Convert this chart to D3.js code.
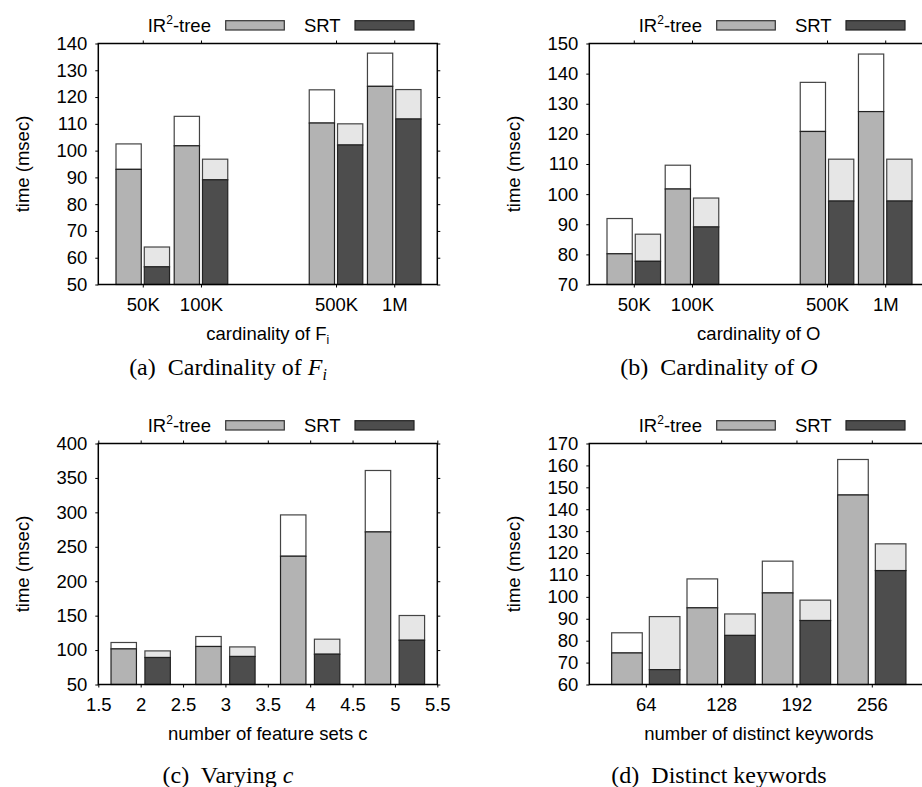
<!DOCTYPE html>
<html>
<head>
<meta charset="utf-8">
<script src="https://cdn.jsdelivr.net/npm/d3@7"></script>
<style>
body { margin: 0; background: #fff; }
svg { display: block; }
</style>
</head>
<body>
<script>
// panel (a) cardinality of Fi
var aCats = ["50K", "100K", "500K", "1M"];
var aPos = [1, 2, 4.32, 5.32];
var aIrBase = [93, 101.8, 110.3, 124];
var aIrTop = [102.5, 112.8, 122.7, 136.4];
var aSrtBase = [56.6, 89.1, 102.1, 111.8];
var aSrtTop = [64, 96.8, 110, 122.8];
var aYTicks = [50, 60, 70, 80, 90, 100, 110, 120, 130, 140];

// panel (b) cardinality of O
var bCats = ["50K", "100K", "500K", "1M"];
var bPos = [1, 2, 4.32, 5.32];
var bIrBase = [80.2, 101.7, 120.8, 127.4];
var bIrTop = [91.9, 109.6, 137.1, 146.5];
var bSrtBase = [77.7, 89.1, 97.7, 97.7];
var bSrtTop = [86.7, 98.7, 111.6, 111.6];
var bYTicks = [70, 80, 90, 100, 110, 120, 130, 140, 150];

// panel (c) varying c
var cCats = [2, 3, 4, 5];
var cIrBase = [101.7, 105.2, 236.3, 271.6];
var cIrTop = [111, 119.7, 296.3, 360.8];
var cSrtBase = [89.2, 90.7, 94, 114.3];
var cSrtTop = [98.8, 104.6, 115.8, 150.2];
var cXTicks = [1.5, 2, 2.5, 3, 3.5, 4, 4.5, 5, 5.5];
var cYTicks = [50, 100, 150, 200, 250, 300, 350, 400];

// panel (d) distinct keywords
var dCats = [64, 128, 192, 256];
var dIrBase = [74.4, 95, 101.8, 146.5];
var dIrTop = [83.6, 108.2, 116.3, 162.7];
var dSrtBase = [66.8, 82.4, 89.2, 112];
var dSrtTop = [91, 92.2, 98.5, 124.2];
var dYTicks = [60, 70, 80, 90, 100, 110, 120, 130, 140, 150, 160, 170];

var SANS = "'Liberation Sans', Arial, sans-serif";
var SERIF = "'Liberation Serif', 'Times New Roman', serif";
var FS = 18.5;

var svg = d3.select("body").append("svg")
	.attr("width", 922)
	.attr("height", 787);

function drawBar(g, x0, x1, yTop, yMid, yBot, upFill, lowFill){
	g.append("rect")
		.attr("x", x0).attr("y", yTop)
		.attr("width", x1 - x0).attr("height", yMid - yTop)
		.attr("fill", upFill).attr("stroke", "#444").attr("stroke-width", 1.2);
	g.append("rect")
		.attr("x", x0).attr("y", yMid)
		.attr("width", x1 - x0).attr("height", yBot - yMid)
		.attr("fill", lowFill).attr("stroke", "#222").attr("stroke-width", 1.2);
}

function styleAxis(sel){
	sel.select(".domain").remove();
	sel.selectAll("line").attr("stroke", "#000").attr("stroke-width", 1);
	sel.selectAll("text").attr("font-family", SANS).attr("font-size", FS).attr("fill", "#000");
}

function panel(ox, oy, o){
	var g = svg.append("g").attr("transform", "translate(" + ox + "," + oy + ")");
	var L = 98.3, T = 43.5, W = 339, H = 241;
	var x = d3.scaleLinear().domain(o.xDomain).range([L, L + W]);
	var y = d3.scaleLinear().domain(o.yDomain).range([T + H, T]);

	// bars
	for(var i = 0; i < o.pos.length; i++){
		var p = o.pos[i];
		drawBar(g, x(p - o.off - o.bw / 2), x(p - o.off + o.bw / 2),
			y(o.irTop[i]), y(o.irBase[i]), y(o.yDomain[0]), "#fff", "#b3b3b3");
		drawBar(g, x(p + o.off - o.bw / 2), x(p + o.off + o.bw / 2),
			y(o.srtTop[i]), y(o.srtBase[i]), y(o.yDomain[0]), "#e6e6e6", "#4d4d4d");
	}

	// axes, ticks outward on all four sides
	g.append("g").attr("transform", "translate(" + L + ",0)")
		.call(d3.axisLeft(y).tickValues(o.yTicks).tickSize(3).tickPadding(8))
		.call(styleAxis);
	g.append("g").attr("transform", "translate(" + (L + W) + ",0)")
		.call(d3.axisRight(y).tickValues(o.yTicks).tickSize(3).tickFormat(""))
		.call(styleAxis);
	g.append("g").attr("transform", "translate(0," + (T + H) + ")")
		.call(d3.axisBottom(x).tickValues(o.xTicks).tickSize(3).tickPadding(10)
			.tickFormat(function(d, i){ return o.xLabels[i]; }))
		.call(styleAxis);
	g.append("g").attr("transform", "translate(0," + T + ")")
		.call(d3.axisTop(x).tickValues(o.xTicks).tickSize(3).tickFormat(""))
		.call(styleAxis);

	g.append("rect")
		.attr("x", L).attr("y", T).attr("width", W).attr("height", H)
		.attr("fill", "none").attr("stroke", "#000").attr("stroke-width", 1.5);

	// y title
	g.append("text")
		.attr("transform", "translate(29," + (T + H / 2) + ") rotate(-90)")
		.attr("text-anchor", "middle")
		.attr("font-family", SANS).attr("font-size", FS)
		.text("time (msec)");

	// x title
	var xt = g.append("text")
		.attr("x", L + W / 2).attr("y", 340)
		.attr("text-anchor", "middle")
		.attr("font-family", SANS).attr("font-size", FS)
		.text(o.xTitle);
	if(o.xSub){
		xt.append("tspan").attr("font-size", 12).attr("dy", 4).text(o.xSub);
	}

	// legend
	var lg = g.append("g").attr("font-family", SANS).attr("font-size", FS);
	var t1 = lg.append("text").attr("x", 147.7).attr("y", 32.3).text("IR");
	t1.append("tspan").attr("font-size", 12).attr("dy", -8).text("2");
	t1.append("tspan").attr("dy", 8).text("-tree");
	lg.append("rect").attr("x", 225.7).attr("y", 20.7).attr("width", 58.6).attr("height", 9.3)
		.attr("fill", "#b3b3b3").attr("stroke", "#333").attr("stroke-width", 1.2);
	lg.append("text").attr("x", 304).attr("y", 32.3).text("SRT");
	lg.append("rect").attr("x", 355).attr("y", 20.7).attr("width", 59).attr("height", 9.3)
		.attr("fill", "#4d4d4d").attr("stroke", "#222").attr("stroke-width", 1.2);

	// caption
	var cap = g.append("text")
		.attr("x", 228).attr("y", o.capY)
		.attr("text-anchor", "middle")
		.attr("font-family", SERIF).attr("font-size", 24);
	o.caption.forEach(function(part){
		var ts = cap.append("tspan").text(part.t);
		if(part.it) ts.attr("font-style", "italic");
		if(part.sub) ts.attr("font-size", 16).attr("dy", 5);
	});
}

panel(0, 0, {
	xDomain: [0.236, 6.06], yDomain: [50, 140],
	pos: aPos, xTicks: aPos, xLabels: aCats, yTicks: aYTicks,
	off: 0.243, bw: 0.434,
	irBase: aIrBase, irTop: aIrTop, srtBase: aSrtBase, srtTop: aSrtTop,
	xTitle: "cardinality of F", xSub: "i", capY: 375,
	caption: [{t: "(a)\u00a0 Cardinality of "}, {t: "F", it: true}, {t: "i", it: true, sub: true}]
});

panel(491, 0, {
	xDomain: [0.236, 6.06], yDomain: [70, 150],
	pos: bPos, xTicks: bPos, xLabels: bCats, yTicks: bYTicks,
	off: 0.243, bw: 0.434,
	irBase: bIrBase, irTop: bIrTop, srtBase: bSrtBase, srtTop: bSrtTop,
	xTitle: "cardinality of O", capY: 375,
	caption: [{t: "(b)\u00a0 Cardinality of "}, {t: "O", it: true}]
});

panel(0, 400, {
	xDomain: [1.5, 5.5], yDomain: [50, 400],
	pos: cCats, xTicks: cXTicks, xLabels: cXTicks.map(String), yTicks: cYTicks,
	off: 0.2, bw: 0.3,
	irBase: cIrBase, irTop: cIrTop, srtBase: cSrtBase, srtTop: cSrtTop,
	xTitle: "number of feature sets c", capY: 383,
	caption: [{t: "(c)\u00a0 Varying "}, {t: "c", it: true}]
});

panel(491, 400, {
	xDomain: [16, 304], yDomain: [60, 170],
	pos: dCats, xTicks: dCats, xLabels: dCats.map(String), yTicks: dYTicks,
	off: 16, bw: 26,
	irBase: dIrBase, irTop: dIrTop, srtBase: dSrtBase, srtTop: dSrtTop,
	xTitle: "number of distinct keywords", capY: 383,
	caption: [{t: "(d)\u00a0 Distinct keywords"}]
});
</script>
</body>
</html>
